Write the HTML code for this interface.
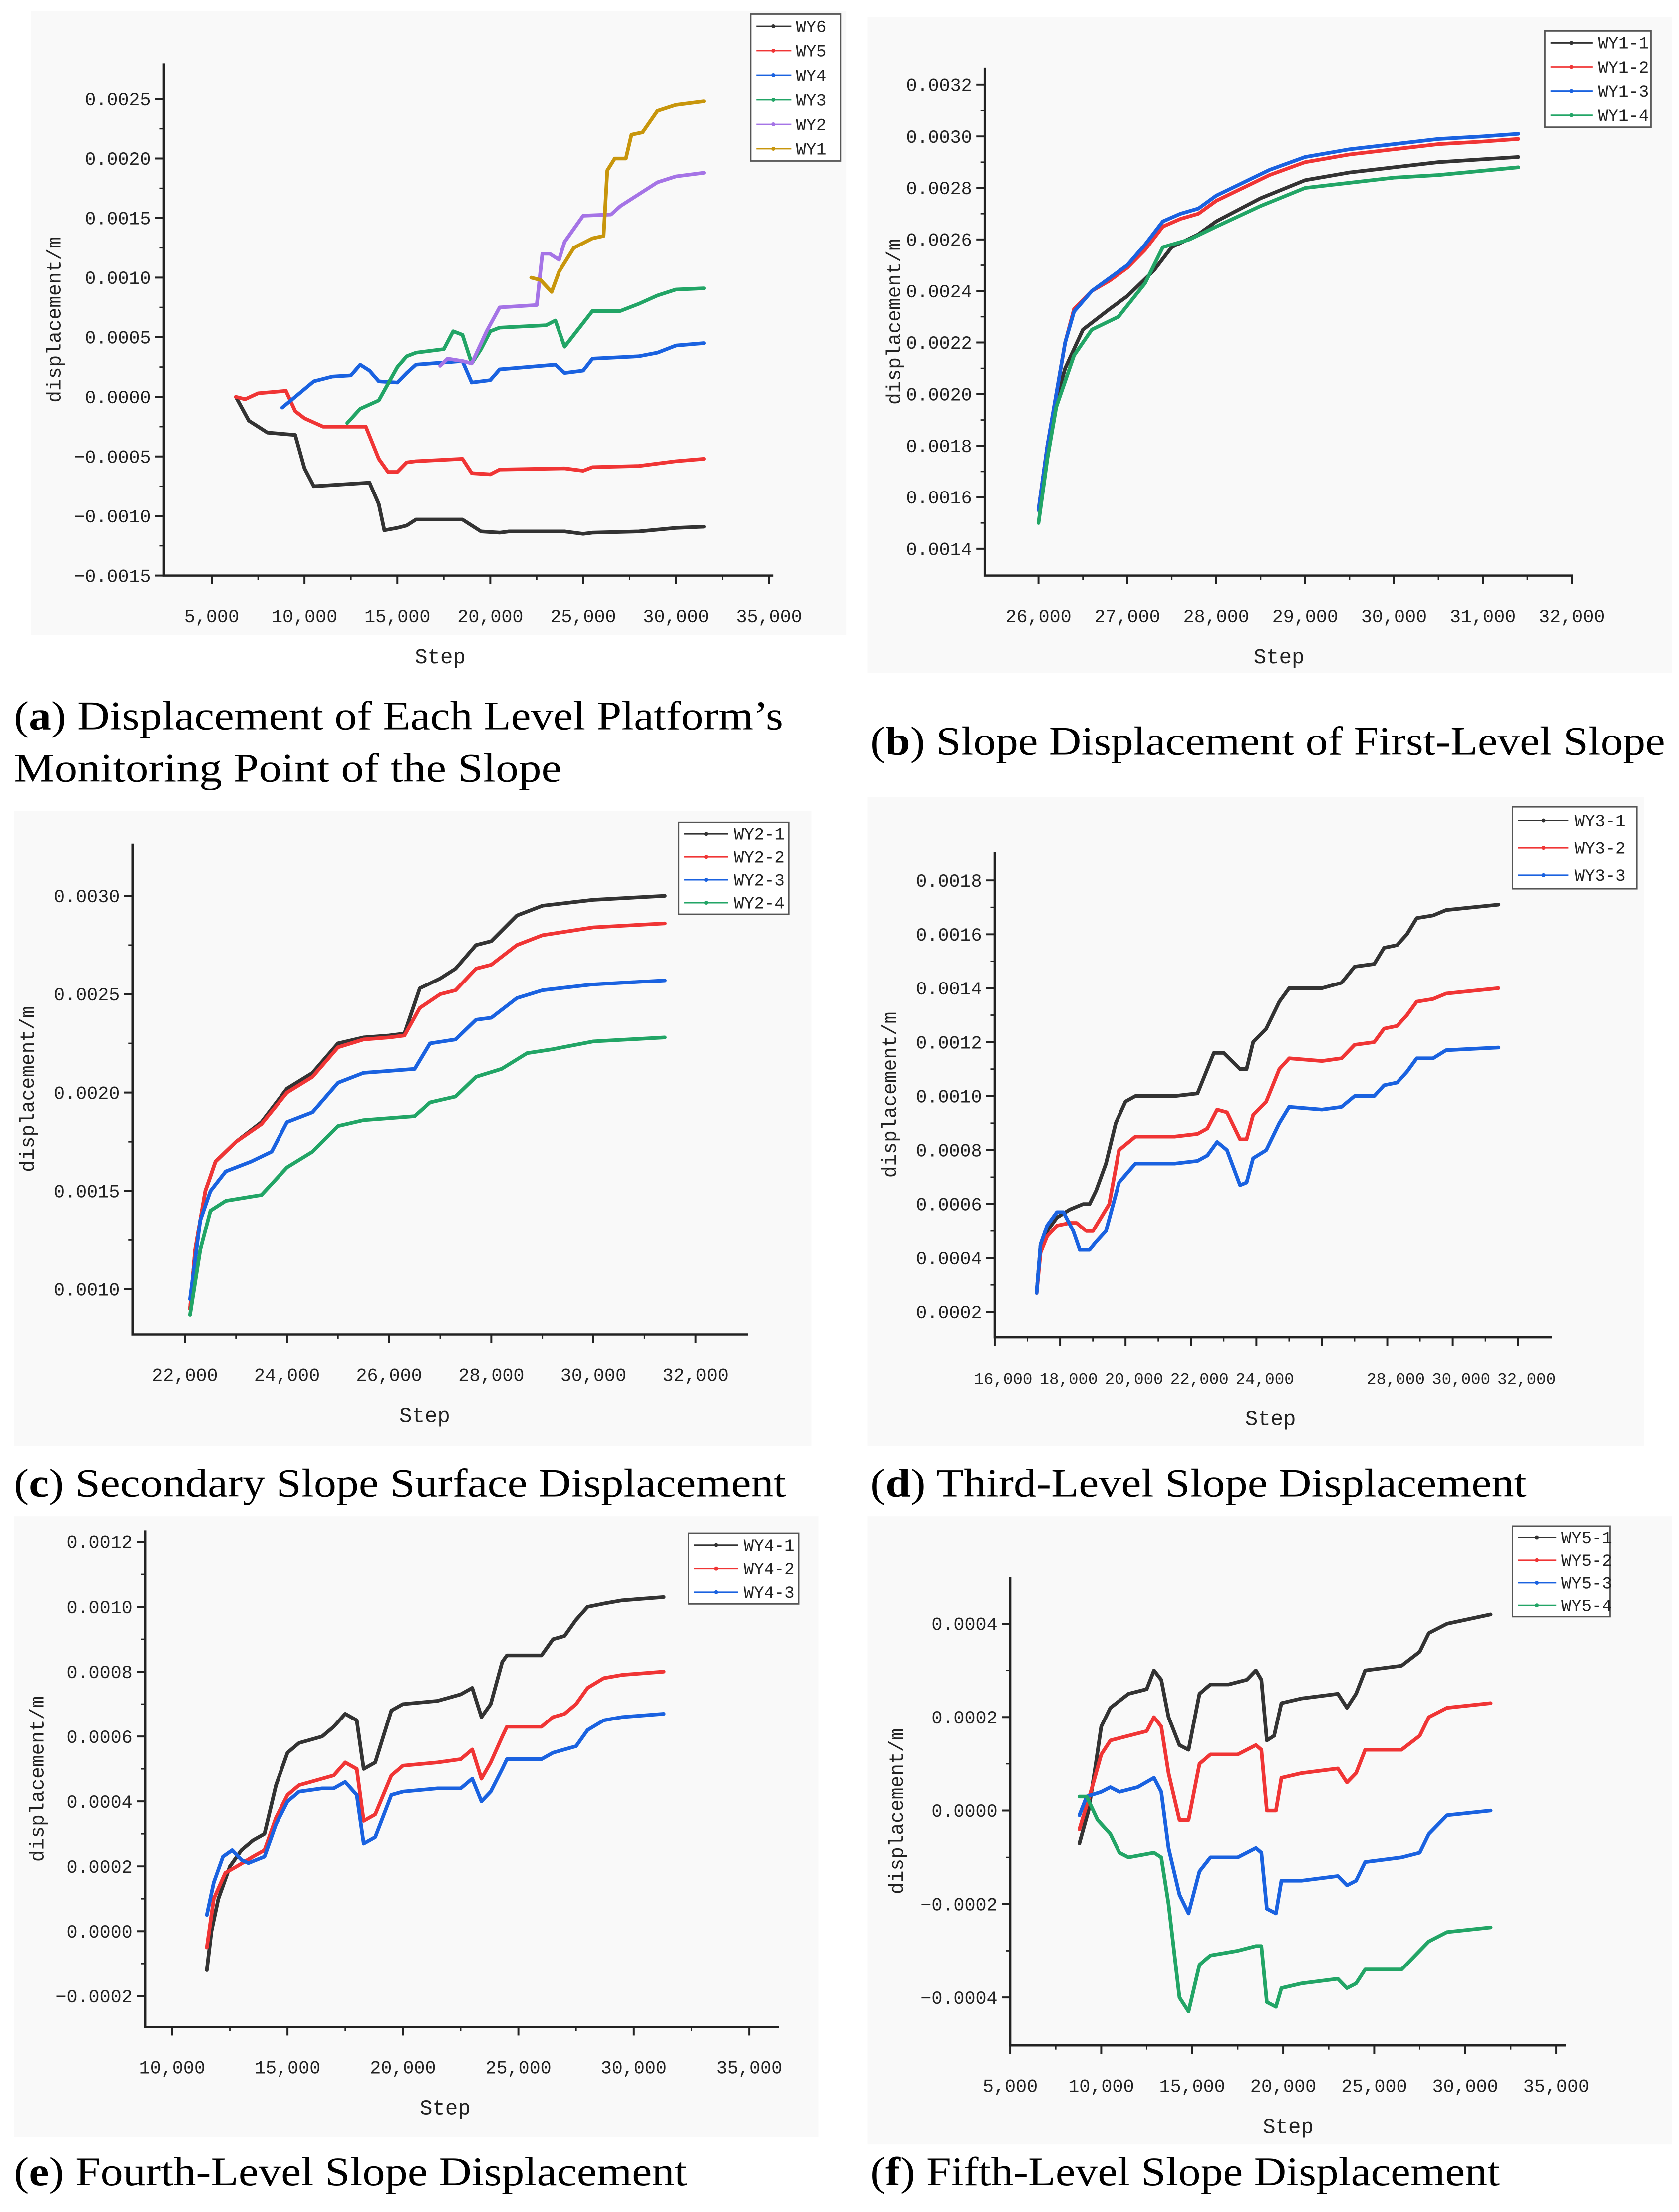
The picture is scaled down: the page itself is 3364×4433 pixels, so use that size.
<!DOCTYPE html>
<html><head><meta charset="utf-8">
<style>
html,body{margin:0;padding:0;background:#fff;}
svg{display:block;}
text{font-family:"Liberation Mono","DejaVu Sans Mono",monospace;fill:#222;}
.cap{font-family:"Liberation Serif",serif;font-size:29px;fill:#000;}
</style></head>
<body>
<svg id="fig" xmlns="http://www.w3.org/2000/svg" width="3364" height="4433" viewBox="0 0 1190 1568">
<rect x="0" y="0" width="1190" height="1568" fill="#fff"/>
<text class="cap" x="10" y="517" textLength="545" lengthAdjust="spacingAndGlyphs">(<tspan font-weight="bold">a</tspan>) Displacement of Each Level Platform’s</text>
<text class="cap" x="10" y="554" textLength="388" lengthAdjust="spacingAndGlyphs">Monitoring Point of the Slope</text>
<text class="cap" x="617" y="535" textLength="563" lengthAdjust="spacingAndGlyphs">(<tspan font-weight="bold">b</tspan>) Slope Displacement of First-Level Slope</text>
<text class="cap" x="10" y="1061" textLength="547" lengthAdjust="spacingAndGlyphs">(<tspan font-weight="bold">c</tspan>) Secondary Slope Surface Displacement</text>
<text class="cap" x="617" y="1061" textLength="465" lengthAdjust="spacingAndGlyphs">(<tspan font-weight="bold">d</tspan>) Third-Level Slope Displacement</text>
<text class="cap" x="10" y="1549" textLength="477" lengthAdjust="spacingAndGlyphs">(<tspan font-weight="bold">e</tspan>) Fourth-Level Slope Displacement</text>
<text class="cap" x="617" y="1549" textLength="446" lengthAdjust="spacingAndGlyphs">(<tspan font-weight="bold">f</tspan>) Fifth-Level Slope Displacement</text>
</svg>
<script>
// ---------- Panel (a) data ----------
const aWY6=[[6300,0],[7000,-0.0002],[8000,-0.0003],[9500,-0.00032],[10000,-0.0006],[10500,-0.00075],[11500,-0.00074],[13500,-0.00072],[14000,-0.0009],[14300,-0.00112],[15000,-0.0011],[15500,-0.00108],[16000,-0.00103],[18500,-0.00103],[19000,-0.00108],[19500,-0.00113],[20500,-0.00114],[21000,-0.00113],[24000,-0.00113],[25000,-0.00115],[25500,-0.00114],[28000,-0.00113],[30000,-0.0011],[31500,-0.00109]];
const aWY5=[[6300,0],[6800,-0.00002],[7500,0.00003],[9000,0.00005],[9500,-0.00012],[10000,-0.00018],[11000,-0.00025],[13300,-0.00025],[14000,-0.00052],[14500,-0.00063],[15000,-0.00063],[15500,-0.00055],[16000,-0.00054],[18500,-0.00052],[19000,-0.00064],[20000,-0.00065],[20500,-0.00061],[24000,-0.0006],[25000,-0.00062],[25500,-0.00059],[28000,-0.00058],[30000,-0.00054],[31500,-0.00052]];
const aWY4=[[8800,-0.00009],[9500,0.0],[10500,0.00013],[11500,0.00017],[12500,0.00018],[13000,0.00027],[13500,0.00022],[14000,0.00013],[15000,0.00012],[15500,0.0002],[16000,0.00027],[18500,0.0003],[19000,0.00012],[20000,0.00014],[20500,0.00023],[23500,0.00027],[24000,0.0002],[25000,0.00022],[25500,0.00032],[28000,0.00034],[29000,0.00037],[30000,0.00043],[31500,0.00045]];
const aWY3=[[12300,-0.00022],[13000,-0.0001],[14000,-0.00003],[15000,0.00025],[15500,0.00034],[16000,0.00037],[17500,0.0004],[18000,0.00055],[18500,0.00052],[19000,0.00028],[19500,0.0004],[20000,0.00055],[20500,0.00058],[23000,0.0006],[23500,0.00064],[24000,0.00042],[24500,0.00052],[25500,0.00072],[27000,0.00072],[28000,0.00078],[29000,0.00085],[30000,0.0009],[31500,0.00091]];
const aWY2=[[17300,0.00026],[17700,0.00032],[18500,0.0003],[19000,0.00028],[19800,0.00055],[20500,0.00075],[22500,0.00077],[22800,0.0012],[23200,0.0012],[23700,0.00115],[24000,0.0013],[25000,0.00152],[26500,0.00153],[27000,0.0016],[28000,0.0017],[29000,0.0018],[30000,0.00185],[31500,0.00188]];
const aWY1=[[22200,0.001],[22700,0.00098],[23300,0.00088],[23700,0.00105],[24500,0.00125],[25500,0.00133],[26100,0.00135],[26300,0.0019],[26700,0.002],[27300,0.002],[27600,0.0022],[28200,0.00222],[29000,0.0024],[30000,0.00245],[31500,0.00248]];
const aXTicks=[5000,10000,15000,20000,25000,30000,35000];
const aYTicks=[-0.0015,-0.001,-0.0005,0,0.0005,0.001,0.0015,0.002,0.0025];
// ---------- Panel (b) data ----------
const bWY11=[[26000,0.00155],[26100,0.0018],[26200,0.00198],[26300,0.0021],[26500,0.00225],[26800,0.00233],[27000,0.00238],[27300,0.00248],[27500,0.00257],[27800,0.00262],[28000,0.00267],[28500,0.00276],[29000,0.00283],[29500,0.00286],[30000,0.00288],[30500,0.0029],[31400,0.00292]];
const bWY12=[[26000,0.00155],[26100,0.0018],[26200,0.002],[26300,0.0022],[26400,0.00233],[26600,0.0024],[26800,0.00244],[27000,0.00249],[27200,0.00256],[27400,0.00265],[27600,0.00268],[27800,0.0027],[28000,0.00275],[28300,0.0028],[28600,0.00285],[29000,0.0029],[29500,0.00293],[30000,0.00295],[30500,0.00297],[31000,0.00298],[31400,0.00299]];
const bWY13=[[26000,0.00155],[26100,0.0018],[26200,0.002],[26300,0.0022],[26400,0.00232],[26600,0.0024],[26800,0.00245],[27000,0.0025],[27200,0.00258],[27400,0.00267],[27600,0.0027],[27800,0.00272],[28000,0.00277],[28300,0.00282],[28600,0.00287],[29000,0.00292],[29500,0.00295],[30000,0.00297],[30500,0.00299],[31000,0.003],[31400,0.00301]];
const bWY14=[[26000,0.0015],[26100,0.00175],[26200,0.00195],[26400,0.00215],[26600,0.00225],[26900,0.0023],[27200,0.00243],[27400,0.00257],[27700,0.0026],[28000,0.00265],[28500,0.00273],[29000,0.0028],[29500,0.00282],[30000,0.00284],[30500,0.00285],[31400,0.00288]];
const bXTicks=[26000,27000,28000,29000,30000,31000,32000];
const bYTicks=[0.0014,0.0016,0.0018,0.002,0.0022,0.0024,0.0026,0.0028,0.003,0.0032];
// ---------- Panel (c) data ----------
const cWY21=[[22100,0.0009],[22200,0.0012],[22400,0.0015],[22600,0.00165],[23000,0.00175],[23500,0.00185],[24000,0.00202],[24500,0.0021],[25000,0.00225],[25500,0.00228],[26000,0.00229],[26300,0.0023],[26600,0.00253],[27000,0.00258],[27300,0.00263],[27700,0.00275],[28000,0.00277],[28500,0.0029],[29000,0.00295],[30000,0.00298],[31400,0.003]];
const cWY22=[[22100,0.0009],[22200,0.0012],[22400,0.0015],[22600,0.00165],[23000,0.00175],[23500,0.00184],[24000,0.002],[24500,0.00208],[25000,0.00223],[25500,0.00227],[26000,0.00228],[26300,0.00229],[26600,0.00243],[27000,0.0025],[27300,0.00252],[27700,0.00263],[28000,0.00265],[28500,0.00275],[29000,0.0028],[30000,0.00284],[31400,0.00286]];
const cWY23=[[22100,0.00095],[22300,0.00135],[22500,0.0015],[22800,0.0016],[23300,0.00165],[23700,0.0017],[24000,0.00185],[24500,0.0019],[25000,0.00205],[25500,0.0021],[26500,0.00212],[26800,0.00225],[27300,0.00227],[27700,0.00237],[28000,0.00238],[28500,0.00248],[29000,0.00252],[30000,0.00255],[31400,0.00257]];
const cWY24=[[22100,0.00087],[22300,0.0012],[22500,0.0014],[22800,0.00145],[23500,0.00148],[24000,0.00162],[24500,0.0017],[25000,0.00183],[25500,0.00186],[26500,0.00188],[26800,0.00195],[27300,0.00198],[27700,0.00208],[28200,0.00212],[28700,0.0022],[29200,0.00222],[30000,0.00226],[31400,0.00228]];
const cXTicks=[22000,24000,26000,28000,30000,32000];
const cYTicks=[0.001,0.0015,0.002,0.0025,0.003];
// ---------- Panel (d) data ----------
const dWY31=[[17280,0.00027],[17400,0.00045],[17600,0.0005],[17900,0.00055],[18300,0.00058],[18700,0.0006],[18900,0.0006],[19100,0.00065],[19400,0.00075],[19700,0.0009],[20000,0.00098],[20300,0.001],[21500,0.001],[22200,0.00101],[22500,0.0011],[22700,0.00116],[23000,0.00116],[23500,0.0011],[23700,0.0011],[23900,0.0012],[24300,0.00125],[24700,0.00135],[25000,0.0014],[26000,0.0014],[26600,0.00142],[27000,0.00148],[27600,0.00149],[27900,0.00155],[28300,0.00156],[28600,0.0016],[28900,0.00166],[29400,0.00167],[29800,0.00169],[31400,0.00171]];
const dWY32=[[17280,0.00027],[17400,0.00042],[17600,0.00048],[17900,0.00052],[18300,0.00053],[18500,0.00053],[18800,0.0005],[19000,0.0005],[19200,0.00054],[19500,0.0006],[19800,0.0008],[20300,0.00085],[21500,0.00085],[22200,0.00086],[22500,0.00088],[22800,0.00095],[23100,0.00094],[23500,0.00084],[23700,0.00084],[23900,0.00093],[24300,0.00098],[24700,0.0011],[25000,0.00114],[26000,0.00113],[26600,0.00114],[27000,0.00119],[27600,0.0012],[27900,0.00125],[28300,0.00126],[28600,0.0013],[28900,0.00135],[29400,0.00136],[29800,0.00138],[31400,0.0014]];
const dWY33=[[17280,0.00027],[17400,0.00045],[17600,0.00052],[17900,0.00057],[18100,0.00057],[18400,0.0005],[18600,0.00043],[18900,0.00043],[19100,0.00046],[19400,0.0005],[19800,0.00068],[20300,0.00075],[21500,0.00075],[22200,0.00076],[22500,0.00078],[22800,0.00083],[23100,0.0008],[23500,0.00067],[23700,0.00068],[23900,0.00077],[24300,0.0008],[24700,0.0009],[25000,0.00096],[26000,0.00095],[26600,0.00096],[27000,0.001],[27600,0.001],[27900,0.00104],[28300,0.00105],[28600,0.00109],[28900,0.00114],[29400,0.00114],[29800,0.00117],[31400,0.00118]];
const dXTicks=[16000,18000,20000,22000,24000,26000,28000,30000,32000];
const dXLabels=["16,000","18,000","20,000","22,000","24,000","","28,000","30,000","32,000"];
const dYTicks=[0.0002,0.0004,0.0006,0.0008,0.001,0.0012,0.0014,0.0016,0.0018];
// ---------- Panel (e) data ----------
const eWY41=[[11500,-0.00012],[11700,0.0],[12000,0.0001],[12500,0.0002],[13000,0.00025],[13500,0.00028],[14000,0.0003],[14500,0.00045],[15000,0.00055],[15500,0.00058],[16500,0.0006],[17000,0.00063],[17500,0.00067],[18000,0.00065],[18300,0.0005],[18800,0.00052],[19500,0.00068],[20000,0.0007],[21500,0.00071],[22500,0.00073],[23000,0.00075],[23400,0.00066],[23800,0.0007],[24300,0.00083],[24500,0.00085],[26000,0.00085],[26500,0.0009],[27000,0.00091],[27500,0.00096],[28000,0.001],[28700,0.00101],[29500,0.00102],[31300,0.00103]];
const eWY42=[[11500,-0.00005],[11800,0.0001],[12300,0.00018],[12800,0.0002],[13500,0.00023],[14000,0.00025],[14500,0.00035],[15000,0.00042],[15500,0.00045],[16500,0.00047],[17000,0.00048],[17500,0.00052],[18000,0.0005],[18300,0.00034],[18800,0.00036],[19500,0.00048],[20000,0.00051],[21500,0.00052],[22500,0.00053],[23000,0.00056],[23400,0.00047],[23800,0.00052],[24300,0.0006],[24500,0.00063],[26000,0.00063],[26500,0.00066],[27000,0.00067],[27500,0.0007],[28000,0.00075],[28700,0.00078],[29500,0.00079],[31300,0.0008]];
const eWY43=[[11500,0.00005],[11800,0.00015],[12200,0.00023],[12600,0.00025],[13000,0.00022],[13300,0.00021],[14000,0.00023],[14500,0.00033],[15000,0.0004],[15500,0.00043],[16500,0.00044],[17000,0.00044],[17500,0.00046],[18000,0.00042],[18300,0.00027],[18800,0.00029],[19500,0.00042],[20000,0.00043],[21500,0.00044],[22500,0.00044],[23000,0.00047],[23400,0.0004],[23800,0.00043],[24300,0.0005],[24500,0.00053],[26000,0.00053],[26500,0.00055],[27500,0.00057],[28000,0.00062],[28700,0.00065],[29500,0.00066],[31300,0.00067]];
const eXTicks=[10000,15000,20000,25000,30000,35000];
const eYTicks=[-0.0002,0,0.0002,0.0004,0.0006,0.0008,0.001,0.0012];
// ---------- Panel (f) data ----------
const fWY51=[[8800,-0.00007],[9300,0.0],[9700,0.0001],[10000,0.00018],[10500,0.00022],[11500,0.00025],[12500,0.00026],[12900,0.0003],[13300,0.00028],[13700,0.0002],[14300,0.00014],[14800,0.00013],[15400,0.00025],[16000,0.00027],[17000,0.00027],[18000,0.00028],[18500,0.0003],[18800,0.00028],[19100,0.00015],[19500,0.00016],[19900,0.00023],[21000,0.00024],[23000,0.00025],[23500,0.00022],[24000,0.00025],[24500,0.0003],[26500,0.00031],[27500,0.00034],[28000,0.00038],[29000,0.0004],[31400,0.00042]];
const fWY52=[[8800,-0.00004],[9500,0.00005],[10000,0.00012],[10500,0.00015],[11500,0.00016],[12500,0.00017],[12900,0.0002],[13300,0.00018],[13700,0.00008],[14300,-0.00002],[14800,-0.00002],[15400,0.0001],[16000,0.00012],[17500,0.00012],[18500,0.00014],[18800,0.00013],[19100,0.0],[19600,0.0],[19900,0.00007],[21000,0.00008],[23000,0.00009],[23500,0.00006],[24000,0.00008],[24500,0.00013],[26500,0.00013],[27500,0.00016],[28000,0.0002],[29000,0.00022],[31400,0.00023]];
const fWY53=[[8800,-0.00001],[9200,0.00003],[10000,0.00004],[10500,0.00005],[11000,0.00004],[12000,0.00005],[12900,0.00007],[13300,0.00004],[13700,-0.00008],[14300,-0.00018],[14800,-0.00022],[15400,-0.00013],[16000,-0.0001],[17500,-0.0001],[18500,-0.00008],[18800,-0.00009],[19100,-0.00021],[19600,-0.00022],[19900,-0.00015],[21000,-0.00015],[23000,-0.00014],[23500,-0.00016],[24000,-0.00015],[24500,-0.00011],[26500,-0.0001],[27500,-0.00009],[28000,-0.00005],[29000,-0.00001],[31400,0.0]];
const fWY54=[[8800,0.00003],[9200,0.00003],[9800,-0.00002],[10500,-0.00005],[11000,-0.00009],[11500,-0.0001],[12900,-0.00009],[13300,-0.0001],[13700,-0.0002],[14300,-0.0004],[14800,-0.00043],[15400,-0.00033],[16000,-0.00031],[17500,-0.0003],[18500,-0.00029],[18800,-0.00029],[19100,-0.00041],[19600,-0.00042],[19900,-0.00038],[21000,-0.00037],[23000,-0.00036],[23500,-0.00038],[24000,-0.00037],[24500,-0.00034],[26500,-0.00034],[27500,-0.0003],[28000,-0.00028],[29000,-0.00026],[31400,-0.00025]];
const fXTicks=[5000,10000,15000,20000,25000,30000,35000];
const fYTicks=[-0.0004,-0.0002,0,0.0002,0.0004];

const NS="http://www.w3.org/2000/svg";
const svg=document.getElementById('fig');
const K='#333', R='#f03535', B='#1a62e0', G='#22a566', P='#a574e6', Y='#c8960c';
function mk(tag,attrs,parent){const e=document.createElementNS(NS,tag);for(const k in attrs)e.setAttribute(k,attrs[k]);(parent||svg).appendChild(e);return e;}
function fmtX(v){return v.toLocaleString('en-US');}
function fmtY(v,d){if(Math.abs(v)<1e-12)return '0.'+'0'.repeat(d);return (v<0?'\u2212':'')+Math.abs(v).toFixed(d);}

function chart(c){
  const g=mk('g',{});
  
  
  mk('rect',{x:c.bg[0],y:c.bg[1],width:c.bg[2],height:c.bg[3],fill:'#f9f9f9'},g);
  const sx=v=>c.xr[1]+(v-c.xr[0])*(c.xr[3]-c.xr[1])/(c.xr[2]-c.xr[0]);
  const sy=v=>c.yr[1]+(v-c.yr[0])*(c.yr[3]-c.yr[1])/(c.yr[2]-c.yr[0]);
  const ax=mk('path',{d:`M${c.x0},${c.top}V${c.bot}H${c.x1}`,fill:'none',stroke:'#222','stroke-width':1.6},g);
  
  
  c.yt.forEach((v,i)=>{
    const y=sy(v);
    mk('line',{x1:c.x0-6,x2:c.x0,y1:y,y2:y,stroke:'#222','stroke-width':1.4},g);
    if(i<c.yt.length-1){const ym=sy((v+c.yt[i+1])/2);mk('line',{x1:c.x0-3,x2:c.x0,y1:ym,y2:ym,stroke:'#222','stroke-width':1},g);}
    const t=mk('text',{x:c.x0-9,y:y+4.5,'text-anchor':'end','font-size':13},g);
    t.textContent=fmtY(v,4);
    
    
  });
  const xfs=c.xfs||13;
  c.xt.forEach((v,i)=>{
    const x=sx(v);
    mk('line',{x1:x,x2:x,y1:c.bot,y2:c.bot+6,stroke:'#222','stroke-width':1.4},g);
    if(i<c.xt.length-1){const xm=sx((v+c.xt[i+1])/2);mk('line',{x1:xm,x2:xm,y1:c.bot,y2:c.bot+3,stroke:'#222','stroke-width':1},g);}
    const lab=c.xl?c.xl[i]:fmtX(v);
    if(lab){const t=mk('text',{x:x+(c.xoff||0),y:c.bot+33,'text-anchor':'middle','font-size':xfs},g);
    t.textContent=lab;
    
    }
  });
  const xt=mk('text',{x:(c.x0+c.x1)/2+c.stepdx,y:c.bot+62,'text-anchor':'middle','font-size':15},g);
  xt.textContent='Step';
  
  
  const yc=(c.top+c.bot)/2, yx=c.x0-c.ytx;
  const yt=mk('text',{x:yx,y:yc,'text-anchor':'middle','font-size':14,transform:`rotate(-90 ${yx} ${yc})`},g);
  yt.textContent='displacement/m';
  
  
  c.series.forEach(s=>{
    const d=s.data.map((p,i)=>(i?'L':'M')+sx(p[0]).toFixed(2)+','+sy(p[1]).toFixed(2)).join('');
    const pth=mk('path',{d:d,fill:'none',stroke:s.color,'stroke-width':2.6,'stroke-linejoin':'round','stroke-linecap':'round'},g);
    
    
  });
  const L=c.leg, rh=L[3]/c.series.length;
  const lg=mk('g',{},g);
  
  
  mk('rect',{x:L[0],y:L[1],width:L[2],height:L[3],fill:'#fff',stroke:'#555','stroke-width':1},lg);
  c.series.forEach((s,i)=>{
    const y=L[1]+rh*(i+0.5);
    const e=mk('g',{},lg);
    
    
    mk('line',{x1:L[0]+4,x2:L[0]+L[2]*0.45,y1:y,y2:y,stroke:s.color,'stroke-width':1},e);
    mk('circle',{cx:L[0]+L[2]*0.25,cy:y,r:1.4,fill:s.color},e);
    const t=mk('text',{x:L[0]+L[2]*0.5,y:y+4,'font-size':12,'font-family':'Liberation Serif, serif'},e);
    t.textContent=s.name;
  });
}

chart({id:'a',bg:[22,8,578,442],x0:116,x1:548,top:45,bot:408,xr:[5000,150,35000,545],yr:[0.0025,70,-0.0015,408],xt:aXTicks,yt:aYTicks,ytx:73,stepdx:-20,
  series:[{name:'WY6',color:K,data:aWY6},{name:'WY5',color:R,data:aWY5},{name:'WY4',color:B,data:aWY4},{name:'WY3',color:G,data:aWY3},{name:'WY2',color:P,data:aWY2},{name:'WY1',color:Y,data:aWY1}],leg:[532,10,64,104]});
chart({id:'b',bg:[615,12,570,465],x0:698,x1:1115,top:48,bot:408,xr:[26000,736,32000,1114],yr:[0.0032,60,0.0014,389],xt:bXTicks,yt:bYTicks,ytx:60,stepdx:0,
  series:[{name:'WY1-1',color:K,data:bWY11},{name:'WY1-2',color:R,data:bWY12},{name:'WY1-3',color:B,data:bWY13},{name:'WY1-4',color:G,data:bWY14}],leg:[1095,22,75,68]});
chart({id:'c',bg:[10,575,565,450],x0:94,x1:530,top:598,bot:946,xr:[22000,131,32000,493],yr:[0.003,635,0.001,914],xt:cXTicks,yt:cYTicks,ytx:70,stepdx:-11,
  series:[{name:'WY2-1',color:K,data:cWY21},{name:'WY2-2',color:R,data:cWY22},{name:'WY2-3',color:B,data:cWY23},{name:'WY2-4',color:G,data:cWY24}],leg:[481,583,78,65]});
chart({id:'d',bg:[615,565,550,460],x0:705,x1:1100,top:604,bot:948,xr:[16000,705,32000,1076],yr:[0.0018,624,0.0002,930],xt:dXTicks,xl:dXLabels,xoff:6,xfs:11.5,yt:dYTicks,ytx:70,stepdx:-2,
  series:[{name:'WY3-1',color:K,data:dWY31},{name:'WY3-2',color:R,data:dWY32},{name:'WY3-3',color:B,data:dWY33}],leg:[1072,572,88,58]});
chart({id:'e',bg:[10,1075,570,440],x0:103,x1:552,top:1085,bot:1437,xr:[10000,122,35000,531],yr:[0.0012,1093,-0.0002,1415],xt:eXTicks,yt:eYTicks,ytx:72,stepdx:-12,
  series:[{name:'WY4-1',color:K,data:eWY41},{name:'WY4-2',color:R,data:eWY42},{name:'WY4-3',color:B,data:eWY43}],leg:[488,1087,78,50]});
chart({id:'f',bg:[615,1075,570,445],x0:716,x1:1110,top:1118,bot:1450,xr:[5000,716,35000,1103],yr:[0.0004,1151,-0.0004,1416],xt:fXTicks,yt:fYTicks,ytx:76,stepdx:0,
  series:[{name:'WY5-1',color:K,data:fWY51},{name:'WY5-2',color:R,data:fWY52},{name:'WY5-3',color:B,data:fWY53},{name:'WY5-4',color:G,data:fWY54}],leg:[1072,1082,69,64]});
</script>
</body></html>
